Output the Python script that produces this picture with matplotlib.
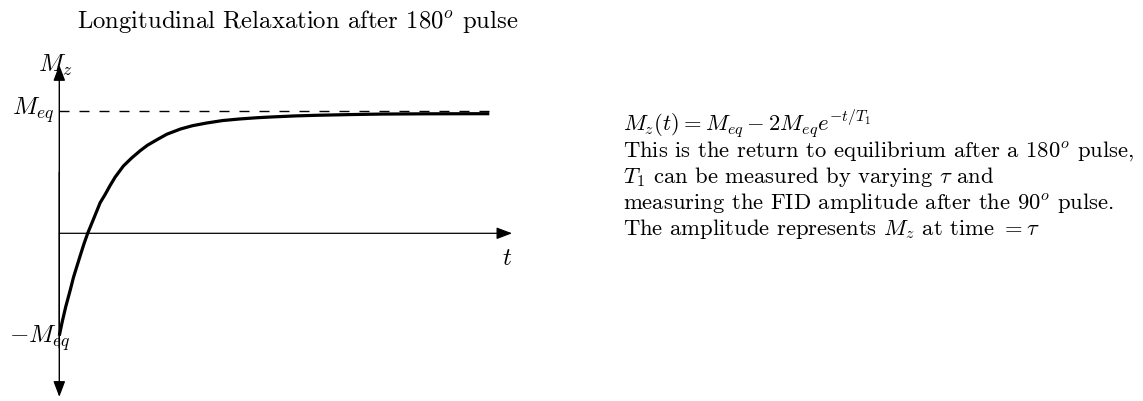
import matplotlib
matplotlib.use("Agg")
import matplotlib.pyplot as plt
from matplotlib.patches import FancyArrowPatch

plt.rcParams["font.family"] = "cmr10"
plt.rcParams["mathtext.fontset"] = "cm"
plt.rcParams["axes.unicode_minus"] = False

# Relaxation curve M_z(t), in units of M_eq, time in arbitrary units
t_values = [0.00, 0.07, 0.15, 0.25, 0.33, 0.40, 0.48, 0.57, 0.66, 0.80,
            0.95, 1.07, 1.18, 1.30, 1.49, 1.68, 1.88, 2.05, 2.27, 2.50,
            2.82, 3.10, 3.43, 3.80, 4.20, 4.60, 4.98, 5.50, 5.99, 6.80,
            7.50, 8.50, 10.0]
mz_values = [-0.837, -0.72, -0.60, -0.47, -0.36, -0.28, -0.19, -0.09, 0.00, 0.12,
             0.25, 0.32, 0.39, 0.46, 0.55, 0.615, 0.675, 0.72, 0.765, 0.81,
             0.853, 0.88, 0.902, 0.922, 0.935, 0.945, 0.952, 0.96, 0.965, 0.971,
             0.975, 0.977, 0.978]
m_eq = 1.0
t_axis_end = 10.53
mz_axis_top = 1.376
mz_axis_bottom = -1.338

title_text = r"Longitudinal Relaxation after 180$^o$ pulse"
note_lines = [
    r"$M_z(t) = M_{eq} - 2M_{eq}e^{-t/T_1}$",
    r"This is the return to equilibrium after a 180$^o$ pulse,",
    r"$T_1$ can be measured by varying $\tau$ and",
    r"measuring the FID amplitude after the 90$^o$ pulse.",
    r"The amplitude represents $M_z$ at time $= \tau$",
]

W, H = 1143, 402
fig = plt.figure(figsize=(W / 100, H / 100), dpi=100)
ax = fig.add_axes([0, 0, 1, 1])
x0, xs = 59.3, 43.0      # origin column and pixels per time unit
y0, ys = 234.3, 122.3    # origin row and pixels per M_eq
ax.set_xlim(-x0 / xs, (W - x0) / xs)
ax.set_ylim(-(H - y0) / ys, y0 / ys)
ax.axis("off")


def fx(px):
    return px / W


def fy(py):
    return 1 - py / H


# axes with arrowheads
arrow_style = "-|>,head_length=9.5,head_width=3.6"
ax.add_patch(FancyArrowPatch((0, mz_axis_bottom + 0.4), (0, mz_axis_top),
                             arrowstyle=arrow_style, mutation_scale=1,
                             color="black", lw=1.0, shrinkA=0, shrinkB=0))
ax.add_patch(FancyArrowPatch((0, 0.5), (0, mz_axis_bottom),
                             arrowstyle=arrow_style, mutation_scale=1,
                             color="black", lw=1.0, shrinkA=0, shrinkB=0))
ax.add_patch(FancyArrowPatch((0, 0), (t_axis_end, 0),
                             arrowstyle=arrow_style, mutation_scale=1,
                             color="black", lw=0.9, shrinkA=0, shrinkB=0))

# equilibrium level
ax.plot([0, t_values[-1]], [m_eq, m_eq], color="black", lw=1.0,
        linestyle=(0, (7.2, 7.2)))

# relaxation curve
ax.plot(t_values, mz_values, color="black", lw=2.3, solid_capstyle="butt",
        solid_joinstyle="round")

label_size = 18
title_size = 17.8
text_size = 16.3
fig.text(fx(38), fy(72), r"$M_z$", fontsize=label_size, ha="left", va="baseline")
fig.text(fx(12), fy(115), r"$M_{eq}$", fontsize=label_size, ha="left", va="baseline")
fig.text(fx(9), fy(343), r"$-M_{eq}$", fontsize=label_size, ha="left", va="baseline")
fig.text(fx(502), fy(265), r"$t$", fontsize=label_size, ha="left", va="baseline")

fig.text(fx(77), fy(28), title_text, fontsize=title_size, ha="left", va="baseline")

for i, line in enumerate(note_lines):
    fig.text(fx(623), fy(131 + 26 * i), line, fontsize=text_size,
             ha="left", va="baseline")

fig.savefig("out.png", dpi=100)
